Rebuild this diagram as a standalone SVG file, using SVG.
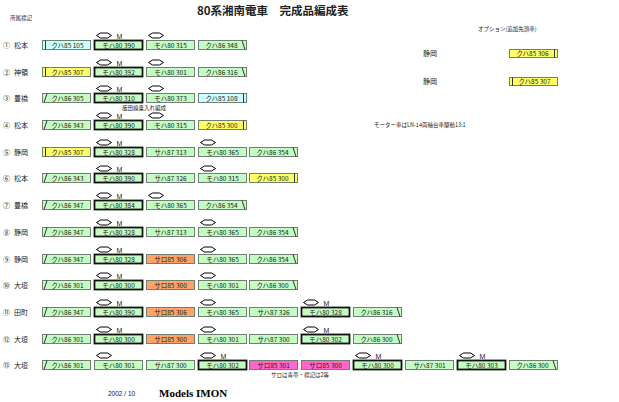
<svg xmlns="http://www.w3.org/2000/svg" xmlns:xlink="http://www.w3.org/1999/xlink" width="619" height="402" viewBox="0 0 619 402">
<style>
text{font-family:"Liberation Sans","Noto Sans CJK JP",sans-serif;fill:#222}
.car rect{stroke:#6f806f;stroke-width:1}
.car rect.m{stroke:#111;stroke-width:1.8}
.g{fill:#c4fcc4}.c{fill:#ccffff}.y{fill:#ffff66}.o{fill:#ffa366}.p{fill:#ff66cc}
.car text.t{font-family:"Noto Sans CJK JP",sans-serif;font-size:6.5px;text-anchor:middle}
.car text.mk{font-size:7px}
.e{stroke:#333;stroke-width:1}
.lbl{font-family:"Noto Sans CJK JP",sans-serif;font-size:7px}
.sm{font-family:"Noto Sans CJK JP",sans-serif;font-size:5.5px}
</style>
<defs>
<path id="pan" d="M-7.5,0 L-3.5,-2.5 L3.5,-2.5 L7.5,0 L3.5,2.5 L-3.5,2.5 Z" fill="#fff" stroke="#000" stroke-width="1" stroke-linejoin="miter"/>
</defs>
<rect width="619" height="402" fill="#fff"/>
<text x="197" y="15" style="font-family:'Noto Sans CJK JP',sans-serif;font-size:11.5px;font-weight:bold">80系湘南電車　完成品編成表</text>
<text class="sm" x="10" y="20">所属標記</text>
<text class="sm" x="478" y="31">オプション(追加先頭車)</text>

<g id="labels">
<text class="lbl" x="3" y="47.5">①</text><text class="lbl" x="14" y="47.5">松本</text>
<text class="lbl" x="3" y="74.5">②</text><text class="lbl" x="14" y="74.5">神領</text>
<text class="lbl" x="3" y="100.5">③</text><text class="lbl" x="14" y="100.5">豊橋</text>
<text class="lbl" x="3" y="127.5">④</text><text class="lbl" x="14" y="127.5">松本</text>
<text class="lbl" x="3" y="154.5">⑤</text><text class="lbl" x="14" y="154.5">静岡</text>
<text class="lbl" x="3" y="180.5">⑥</text><text class="lbl" x="14" y="180.5">松本</text>
<text class="lbl" x="3" y="207.5">⑦</text><text class="lbl" x="14" y="207.5">豊橋</text>
<text class="lbl" x="3" y="234.5">⑧</text><text class="lbl" x="14" y="234.5">静岡</text>
<text class="lbl" x="3" y="261.5">⑨</text><text class="lbl" x="14" y="261.5">静岡</text>
<text class="lbl" x="3" y="287.5">⑩</text><text class="lbl" x="14" y="287.5">大垣</text>
<text class="lbl" x="3" y="314.5">⑪</text><text class="lbl" x="14" y="314.5">田町</text>
<text class="lbl" x="3" y="341.5">⑫</text><text class="lbl" x="14" y="341.5">大垣</text>
<text class="lbl" x="3" y="367.5">⑬</text><text class="lbl" x="14" y="367.5">大垣</text>
</g>

<!-- Row 1 -->
<g id="r1c1" class="car" transform="translate(42.5,40.5)"><rect class="c" width="48" height="9"/><line class="e" x1="3" y1="0" x2="3" y2="9"/><text class="t" x="25" y="7">クハ85 105</text></g>
<g id="r1c2" class="car" transform="translate(94.5,40.5)"><rect class="g m" width="48" height="9"/><text class="t" x="24" y="7">モハ80 390</text><use xlink:href="#pan" x="9.5" y="-5"/><text class="mk" x="22" y="-2">M</text></g>
<g id="r1c3" class="car" transform="translate(146.5,40.5)"><rect class="g" width="48" height="9"/><text class="t" x="24" y="7">モハ80 315</text><use xlink:href="#pan" x="9.5" y="-5"/></g>
<g id="r1c4" class="car" transform="translate(198.5,40.5)"><rect class="g" width="48" height="9"/><line class="e" x1="43.5" y1="0" x2="46.5" y2="9"/><text class="t" x="23" y="7">クハ86 348</text></g>
<g id="opt1" class="car"><text class="lbl" x="423" y="55.5">静岡</text><g transform="translate(509.5,49.5)"><rect class="y" width="48" height="8"/><line class="e" x1="45" y1="0" x2="45" y2="8"/><text class="t" x="23" y="6.5">クハ85 306</text></g></g>

<!-- Row 2 -->
<g id="r2c1" class="car" transform="translate(42.5,67.5)"><rect class="y" width="48" height="9"/><line class="e" x1="3" y1="0" x2="3" y2="9"/><text class="t" x="25" y="7">クハ85 307</text></g>
<g id="r2c2" class="car" transform="translate(94.5,67.5)"><rect class="g m" width="48" height="9"/><text class="t" x="24" y="7">モハ80 392</text><use xlink:href="#pan" x="9.5" y="-5"/><text class="mk" x="22" y="-2">M</text></g>
<g id="r2c3" class="car" transform="translate(146.5,67.5)"><rect class="g" width="48" height="9"/><text class="t" x="24" y="7">モハ80 301</text><use xlink:href="#pan" x="9.5" y="-5"/></g>
<g id="r2c4" class="car" transform="translate(198.5,67.5)"><rect class="g" width="48" height="9"/><line class="e" x1="43.5" y1="0" x2="46.5" y2="9"/><text class="t" x="23" y="7">クハ86 316</text></g>
<g id="opt2" class="car"><text class="lbl" x="423" y="83.5">静岡</text><g transform="translate(509.5,77.5)"><rect class="y" width="48" height="8"/><line class="e" x1="3" y1="0" x2="3" y2="8"/><text class="t" x="25" y="6.5">クハ85 307</text></g></g>

<!-- Row 3 -->
<g id="r3c1" class="car" transform="translate(42.5,93.5)"><rect class="g" width="48" height="9"/><line class="e" x1="1.5" y1="9" x2="4.5" y2="0"/><text class="t" x="25" y="7">クハ86 305</text></g>
<g id="r3c2" class="car" transform="translate(94.5,93.5)"><rect class="g m" width="48" height="9"/><text class="t" x="24" y="7">モハ80 310</text><use xlink:href="#pan" x="9.5" y="-5"/><text class="mk" x="22" y="-2">M</text></g>
<g id="r3c3" class="car" transform="translate(146.5,93.5)"><rect class="g" width="48" height="9"/><text class="t" x="24" y="7">モハ80 373</text><use xlink:href="#pan" x="9.5" y="-5"/></g>
<g id="r3c4" class="car" transform="translate(198.5,93.5)"><rect class="c" width="48" height="9"/><line class="e" x1="45" y1="0" x2="45" y2="9"/><text class="t" x="23" y="7">クハ85 108</text></g>
<text class="sm" x="144" y="110" text-anchor="middle">飯田線乗入れ編成</text>

<!-- Row 4 -->
<g id="r4c1" class="car" transform="translate(42.5,120.5)"><rect class="g" width="48" height="9"/><line class="e" x1="1.5" y1="9" x2="4.5" y2="0"/><text class="t" x="25" y="7">クハ86 343</text></g>
<g id="r4c2" class="car" transform="translate(94.5,120.5)"><rect class="g m" width="48" height="9"/><text class="t" x="24" y="7">モハ80 390</text><use xlink:href="#pan" x="9.5" y="-5"/><text class="mk" x="22" y="-2">M</text></g>
<g id="r4c3" class="car" transform="translate(146.5,120.5)"><rect class="g" width="48" height="9"/><text class="t" x="24" y="7">モハ80 315</text><use xlink:href="#pan" x="9.5" y="-5"/></g>
<g id="r4c4" class="car" transform="translate(198.5,120.5)"><rect class="y" width="48" height="9"/><line class="e" x1="45" y1="0" x2="45" y2="9"/><text class="t" x="23" y="7">クハ85 300</text></g>
<text class="sm" x="374" y="127">モーター車はLN-14両軸台車駆動13:1</text>

<!-- Row 5 -->
<g id="r5c1" class="car" transform="translate(42.5,147.5)"><rect class="y" width="48" height="9"/><line class="e" x1="3" y1="0" x2="3" y2="9"/><text class="t" x="25" y="7">クハ85 307</text></g>
<g id="r5c2" class="car" transform="translate(94.5,147.5)"><rect class="g m" width="48" height="9"/><text class="t" x="24" y="7">モハ80 328</text><use xlink:href="#pan" x="9.5" y="-5"/><text class="mk" x="22" y="-2">M</text></g>
<g id="r5c3" class="car" transform="translate(146.5,147.5)"><rect class="g" width="48" height="9"/><text class="t" x="24" y="7">サハ87 313</text></g>
<g id="r5c4" class="car" transform="translate(198.5,147.5)"><rect class="g" width="48" height="9"/><text class="t" x="24" y="7">モハ80 365</text><use xlink:href="#pan" x="9.5" y="-5"/></g>
<g id="r5c5" class="car" transform="translate(249.5,147.5)"><rect class="g" width="48" height="9"/><line class="e" x1="43.5" y1="0" x2="46.5" y2="9"/><text class="t" x="23" y="7">クハ86 354</text></g>

<!-- Row 6 -->
<g id="r6c1" class="car" transform="translate(42.5,173.5)"><rect class="g" width="48" height="9"/><line class="e" x1="1.5" y1="9" x2="4.5" y2="0"/><text class="t" x="25" y="7">クハ86 343</text></g>
<g id="r6c2" class="car" transform="translate(94.5,173.5)"><rect class="g m" width="48" height="9"/><text class="t" x="24" y="7">モハ80 390</text><use xlink:href="#pan" x="9.5" y="-5"/><text class="mk" x="22" y="-2">M</text></g>
<g id="r6c3" class="car" transform="translate(146.5,173.5)"><rect class="g" width="48" height="9"/><text class="t" x="24" y="7">サハ87 326</text></g>
<g id="r6c4" class="car" transform="translate(198.5,173.5)"><rect class="g" width="48" height="9"/><text class="t" x="24" y="7">モハ80 315</text><use xlink:href="#pan" x="9.5" y="-5"/></g>
<g id="r6c5" class="car" transform="translate(249.5,173.5)"><rect class="y" width="48" height="9"/><line class="e" x1="45" y1="0" x2="45" y2="9"/><text class="t" x="23" y="7">クハ85 300</text></g>

<!-- Row 7 -->
<g id="r7c1" class="car" transform="translate(42.5,200.5)"><rect class="g" width="48" height="9"/><line class="e" x1="1.5" y1="9" x2="4.5" y2="0"/><text class="t" x="25" y="7">クハ86 347</text></g>
<g id="r7c2" class="car" transform="translate(94.5,200.5)"><rect class="g m" width="48" height="9"/><text class="t" x="24" y="7">モハ80 384</text><use xlink:href="#pan" x="9.5" y="-5"/><text class="mk" x="22" y="-2">M</text></g>
<g id="r7c3" class="car" transform="translate(146.5,200.5)"><rect class="g" width="48" height="9"/><text class="t" x="24" y="7">モハ80 365</text><use xlink:href="#pan" x="9.5" y="-5"/></g>
<g id="r7c4" class="car" transform="translate(198.5,200.5)"><rect class="g" width="48" height="9"/><line class="e" x1="43.5" y1="0" x2="46.5" y2="9"/><text class="t" x="23" y="7">クハ86 354</text></g>

<!-- Row 8 -->
<g id="r8c1" class="car" transform="translate(42.5,227.5)"><rect class="g" width="48" height="9"/><line class="e" x1="1.5" y1="9" x2="4.5" y2="0"/><text class="t" x="25" y="7">クハ86 347</text></g>
<g id="r8c2" class="car" transform="translate(94.5,227.5)"><rect class="g m" width="48" height="9"/><text class="t" x="24" y="7">モハ80 328</text><use xlink:href="#pan" x="9.5" y="-5"/><text class="mk" x="22" y="-2">M</text></g>
<g id="r8c3" class="car" transform="translate(146.5,227.5)"><rect class="g" width="48" height="9"/><text class="t" x="24" y="7">サハ87 313</text></g>
<g id="r8c4" class="car" transform="translate(198.5,227.5)"><rect class="g" width="48" height="9"/><text class="t" x="24" y="7">モハ80 365</text><use xlink:href="#pan" x="9.5" y="-5"/></g>
<g id="r8c5" class="car" transform="translate(249.5,227.5)"><rect class="g" width="48" height="9"/><line class="e" x1="43.5" y1="0" x2="46.5" y2="9"/><text class="t" x="23" y="7">クハ86 354</text></g>

<!-- Row 9 -->
<g id="r9c1" class="car" transform="translate(42.5,254.5)"><rect class="g" width="48" height="9"/><line class="e" x1="1.5" y1="9" x2="4.5" y2="0"/><text class="t" x="25" y="7">クハ86 347</text></g>
<g id="r9c2" class="car" transform="translate(94.5,254.5)"><rect class="g m" width="48" height="9"/><text class="t" x="24" y="7">モハ80 328</text><use xlink:href="#pan" x="9.5" y="-5"/><text class="mk" x="22" y="-2">M</text></g>
<g id="r9c3" class="car" transform="translate(146.5,254.5)"><rect class="o" width="48" height="9"/><text class="t" x="24" y="7">サロ85 306</text></g>
<g id="r9c4" class="car" transform="translate(198.5,254.5)"><rect class="g" width="48" height="9"/><text class="t" x="24" y="7">モハ80 365</text><use xlink:href="#pan" x="9.5" y="-5"/></g>
<g id="r9c5" class="car" transform="translate(249.5,254.5)"><rect class="g" width="48" height="9"/><line class="e" x1="43.5" y1="0" x2="46.5" y2="9"/><text class="t" x="23" y="7">クハ86 354</text></g>

<!-- Row 10 -->
<g id="r10c1" class="car" transform="translate(42.5,280.5)"><rect class="g" width="48" height="9"/><line class="e" x1="1.5" y1="9" x2="4.5" y2="0"/><text class="t" x="25" y="7">クハ86 301</text></g>
<g id="r10c2" class="car" transform="translate(94.5,280.5)"><rect class="g m" width="48" height="9"/><text class="t" x="24" y="7">モハ80 300</text><use xlink:href="#pan" x="9.5" y="-5"/><text class="mk" x="22" y="-2">M</text></g>
<g id="r10c3" class="car" transform="translate(146.5,280.5)"><rect class="o" width="48" height="9"/><text class="t" x="24" y="7">サロ85 300</text></g>
<g id="r10c4" class="car" transform="translate(198.5,280.5)"><rect class="g" width="48" height="9"/><text class="t" x="24" y="7">モハ80 301</text><use xlink:href="#pan" x="9.5" y="-5"/></g>
<g id="r10c5" class="car" transform="translate(249.5,280.5)"><rect class="g" width="48" height="9"/><line class="e" x1="43.5" y1="0" x2="46.5" y2="9"/><text class="t" x="23" y="7">クハ86 300</text></g>

<!-- Row 11 -->
<g id="r11c1" class="car" transform="translate(42.5,307.5)"><rect class="g" width="48" height="9"/><line class="e" x1="1.5" y1="9" x2="4.5" y2="0"/><text class="t" x="25" y="7">クハ86 347</text></g>
<g id="r11c2" class="car" transform="translate(94.5,307.5)"><rect class="g m" width="48" height="9"/><text class="t" x="24" y="7">モハ80 390</text><use xlink:href="#pan" x="9.5" y="-5"/><text class="mk" x="22" y="-2">M</text></g>
<g id="r11c3" class="car" transform="translate(146.5,307.5)"><rect class="o" width="48" height="9"/><text class="t" x="24" y="7">サロ85 306</text></g>
<g id="r11c4" class="car" transform="translate(198.5,307.5)"><rect class="g" width="48" height="9"/><text class="t" x="24" y="7">モハ80 365</text><use xlink:href="#pan" x="9.5" y="-5"/></g>
<g id="r11c5" class="car" transform="translate(249.5,307.5)"><rect class="g" width="48" height="9"/><text class="t" x="24" y="7">サハ87 326</text></g>
<g id="r11c6" class="car" transform="translate(301.5,307.5)"><rect class="g m" width="48" height="9"/><text class="t" x="24" y="7">モハ80 328</text><use xlink:href="#pan" x="9.5" y="-5"/><text class="mk" x="22" y="-2">M</text></g>
<g id="r11c7" class="car" transform="translate(353.5,307.5)"><rect class="g" width="48" height="9"/><line class="e" x1="43.5" y1="0" x2="46.5" y2="9"/><text class="t" x="23" y="7">クハ86 316</text></g>

<!-- Row 12 -->
<g id="r12c1" class="car" transform="translate(42.5,334.5)"><rect class="g" width="48" height="9"/><line class="e" x1="1.5" y1="9" x2="4.5" y2="0"/><text class="t" x="25" y="7">クハ86 301</text></g>
<g id="r12c2" class="car" transform="translate(94.5,334.5)"><rect class="g m" width="48" height="9"/><text class="t" x="24" y="7">モハ80 300</text><use xlink:href="#pan" x="9.5" y="-5"/><text class="mk" x="22" y="-2">M</text></g>
<g id="r12c3" class="car" transform="translate(146.5,334.5)"><rect class="o" width="48" height="9"/><text class="t" x="24" y="7">サロ85 300</text></g>
<g id="r12c4" class="car" transform="translate(198.5,334.5)"><rect class="g" width="48" height="9"/><text class="t" x="24" y="7">モハ80 301</text><use xlink:href="#pan" x="9.5" y="-5"/></g>
<g id="r12c5" class="car" transform="translate(249.5,334.5)"><rect class="g" width="48" height="9"/><text class="t" x="24" y="7">サハ87 300</text></g>
<g id="r12c6" class="car" transform="translate(301.5,334.5)"><rect class="g m" width="48" height="9"/><text class="t" x="24" y="7">モハ80 302</text><use xlink:href="#pan" x="9.5" y="-5"/><text class="mk" x="22" y="-2">M</text></g>
<g id="r12c7" class="car" transform="translate(353.5,334.5)"><rect class="g" width="48" height="9"/><line class="e" x1="43.5" y1="0" x2="46.5" y2="9"/><text class="t" x="23" y="7">クハ86 300</text></g>

<!-- Row 13 -->
<g id="r13c1" class="car" transform="translate(42.5,360.5)"><rect class="g" width="48" height="9"/><line class="e" x1="1.5" y1="9" x2="4.5" y2="0"/><text class="t" x="25" y="7">クハ86 301</text></g>
<g id="r13c2" class="car" transform="translate(94.5,360.5)"><rect class="g" width="48" height="9"/><text class="t" x="24" y="7">モハ80 301</text><use xlink:href="#pan" x="9.5" y="-5"/></g>
<g id="r13c3" class="car" transform="translate(146.5,360.5)"><rect class="g" width="48" height="9"/><text class="t" x="24" y="7">サハ87 300</text></g>
<g id="r13c4" class="car" transform="translate(198.5,360.5)"><rect class="g m" width="48" height="9"/><text class="t" x="24" y="7">モハ80 302</text><use xlink:href="#pan" x="9.5" y="-5"/><text class="mk" x="22" y="-2">M</text></g>
<g id="r13c5" class="car" transform="translate(249.5,360.5)"><rect class="p" width="48" height="9"/><text class="t" x="24" y="7">サロ85 301</text></g>
<g id="r13c6" class="car" transform="translate(301.5,360.5)"><rect class="p" width="48" height="9"/><text class="t" x="24" y="7">サロ85 300</text></g>
<g id="r13c7" class="car" transform="translate(353.5,360.5)"><rect class="g m" width="48" height="9"/><text class="t" x="24" y="7">モハ80 300</text><use xlink:href="#pan" x="9.5" y="-5"/><text class="mk" x="22" y="-2">M</text></g>
<g id="r13c8" class="car" transform="translate(405.5,360.5)"><rect class="g" width="48" height="9"/><text class="t" x="24" y="7">サハ87 301</text></g>
<g id="r13c9" class="car" transform="translate(457.5,360.5)"><rect class="g m" width="48" height="9"/><text class="t" x="24" y="7">モハ80 303</text><use xlink:href="#pan" x="9.5" y="-5"/><text class="mk" x="22" y="-2">M</text></g>
<g id="r13c10" class="car" transform="translate(509.5,360.5)"><rect class="g" width="48" height="9"/><line class="e" x1="43.5" y1="0" x2="46.5" y2="9"/><text class="t" x="23" y="7">クハ86 300</text></g>
<text class="sm" x="300" y="377" text-anchor="middle">サロは青帯・標記は2等</text>

<text x="108" y="396" style="font-size:6.5px">2002 / 10</text>
<text x="159" y="397" style="font-family:'Liberation Serif',serif;font-size:11px;font-weight:bold;fill:#000">Models IMON</text>
</svg>
